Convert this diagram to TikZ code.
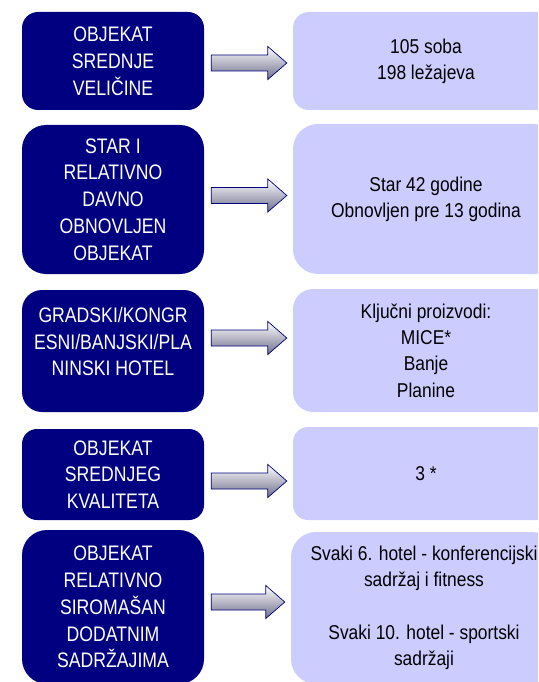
\documentclass[tikz,border=0pt]{standalone}
\usepackage{fontspec}
\setmainfont{Liberation Sans}
\newfontfamily\boxfontL{Liberation Sans}[FakeStretch=0.84]
\newfontfamily\boxfontR{Liberation Sans}[FakeStretch=0.87]
\usetikzlibrary{calc}

\definecolor{boxnavy}{HTML}{000080}
\definecolor{boxlilac}{HTML}{CCCCFF}
\definecolor{arrowmid}{RGB}{215,215,225}
\definecolor{arrowshade}{RGB}{110,110,140}

\tikzset{
  leftbox/.style={rectangle, fill=boxnavy, text=white, inner sep=0pt,
    minimum width=182pt, align=center,
    font=\boxfontL\fontsize{21}{26.8}\selectfont},
  rightbox/.style={rectangle, fill=boxlilac, text=black, inner sep=0pt,
    minimum width=266pt, align=center,
    font=\boxfontR\fontsize{20}{26.3}\selectfont},
  arrowbody/.style={draw=boxnavy, line width=0.7pt, line join=miter,
    top color=white, middle color=arrowmid, bottom color=arrowshade},
}

% block arrow from the east side of #1 to the west side of #2, axis at height #3
\newcommand\flowarrow[3]{%
  \draw[arrowbody] let \p1=(#1.east), \p2=(#2.west), \p3=(0,#3) in
    (\x1+7pt,\y3+8pt) -- (\x2-25pt,\y3+8pt) -- (\x2-25pt,\y3+16.5pt)
    -- (\x2-6pt,\y3) -- (\x2-25pt,\y3-16.5pt) -- (\x2-25pt,\y3-8pt)
    -- (\x1+7pt,\y3-8pt) -- cycle;}

\begin{document}
\begin{tikzpicture}[x=1pt, y=-1pt]
  \path[use as bounding box, clip] (0,0) rectangle (538,682);

  % categories
  \node[leftbox, minimum height=98pt, rounded corners=16pt] (L1) at (113,61)
    {OBJEKAT\\SREDNJE\\VELIČINE};
  \node[leftbox, minimum height=149pt, rounded corners=24pt] (L2) at (113,199.5)
    {STAR I\\RELATIVNO\\DAVNO\\OBNOVLJEN\\OBJEKAT};
  \node[leftbox, minimum height=122pt, rounded corners=20pt, text depth=19pt] (L3) at (113,351)
    {GRADSKI/KONGR\\ESNI/BANJSKI/PLA\\NINSKI HOTEL};
  \node[leftbox, minimum height=91pt, rounded corners=15pt] (L4) at (113,474.5)
    {OBJEKAT\\SREDNJEG\\KVALITETA};
  \node[leftbox, minimum height=154pt, rounded corners=25pt] (L5) at (113,607)
    {OBJEKAT\\RELATIVNO\\SIROMAŠAN\\DODATNIM\\SADRŽAJIMA};

  % details
  \node[rightbox, minimum height=98pt, rounded corners=16pt] (R1) at (426,61)
    {105 soba\\198 ležajeva};
  \node[rightbox, minimum height=150pt, rounded corners=25pt] (R2) at (426,199)
    {Star 42 godine\\Obnovljen pre 13 godina};
  \node[rightbox, minimum height=123pt, rounded corners=20pt] (R3) at (426,350.5)
    {Ključni proizvodi:\\MICE*\\Banje\\Planine};
  \node[rightbox, minimum height=93pt, rounded corners=15pt] (R4) at (426,473.5)
    {3 *};
  \node[rightbox, minimum height=152pt, rounded corners=25pt] (R5) at (424,608)
    {Svaki 6. hotel - konferencijski\\sadržaj i fitness\\[26.3pt]Svaki 10. hotel - sportski\\sadržaji};

  % connectors
  \flowarrow{L1}{R1}{63}
  \flowarrow{L2}{R2}{195.5}
  \flowarrow{L3}{R3}{338}
  \flowarrow{L4}{R4}{481}
  \flowarrow{L5}{R5}{602}
\end{tikzpicture}
\end{document}
